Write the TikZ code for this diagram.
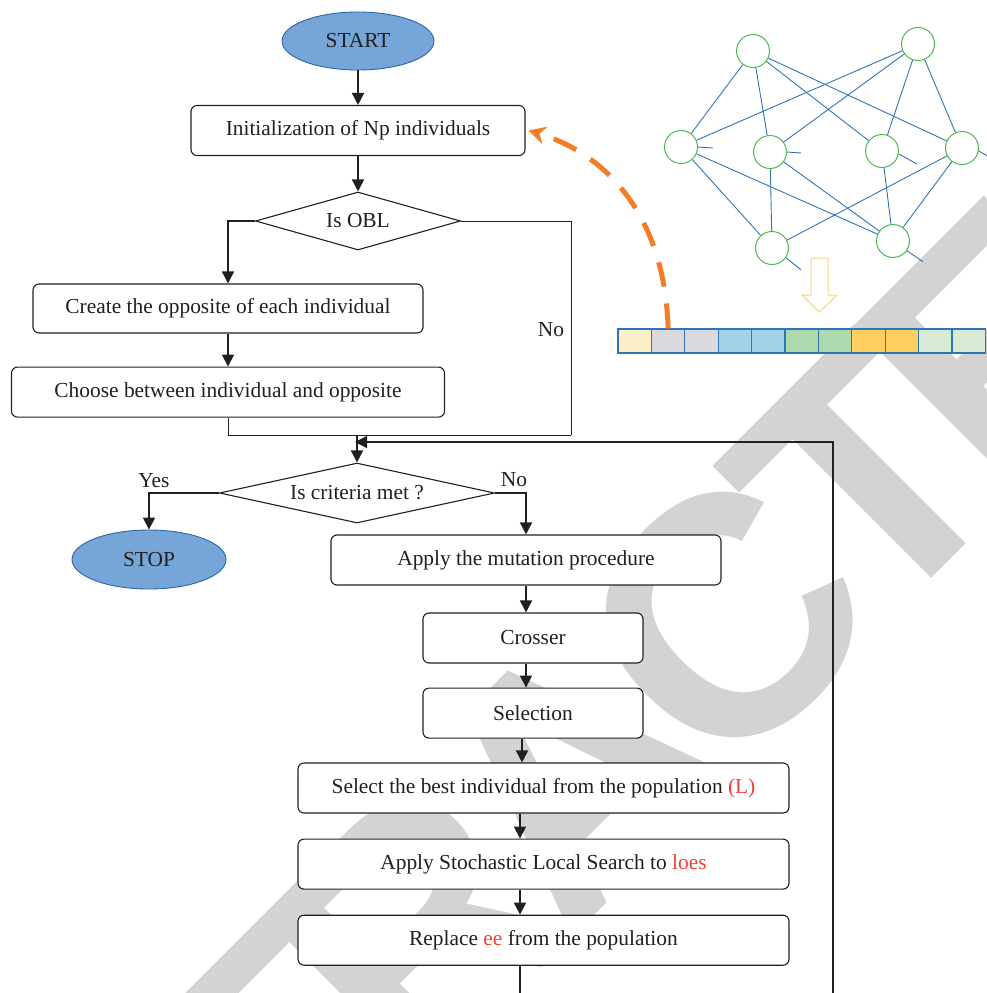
\documentclass[tikz,border=0pt]{standalone}
\usepackage{fontspec}
\setmainfont{Liberation Serif}
\newfontfamily\marksans[LetterSpace=-8]{Liberation Sans}
\usepackage{xcolor}
\usepackage{tikz}
\usetikzlibrary{arrows.meta, positioning, shapes.geometric, backgrounds}

\definecolor{ink}{RGB}{35,31,32}
\definecolor{hilite}{RGB}{239,65,54}
\definecolor{termfill}{RGB}{118,166,216}
\definecolor{termline}{RGB}{46,100,170}
\definecolor{nngreen}{RGB}{76,185,76}
\definecolor{nnblue}{RGB}{46,117,182}
\definecolor{oblorange}{RGB}{244,125,42}
\definecolor{hollowyel}{RGB}{255,212,110}
\definecolor{gcream}{RGB}{253,239,199}
\definecolor{ggray}{RGB}{217,217,222}
\definecolor{gblue}{RGB}{162,210,234}
\definecolor{ggreen}{RGB}{174,216,173}
\definecolor{ggold}{RGB}{255,208,95}
\definecolor{gpale}{RGB}{214,234,212}
\definecolor{markgray}{RGB}{211,211,211}

\begin{document}
\begin{tikzpicture}[x=1pt, y=-1pt,
  block/.style={rectangle, rounded corners=6pt, draw=ink, line width=1.1pt,
    fill=white, text=ink, inner sep=0pt, minimum height=50pt,
    font=\fontsize{21.4}{25}\selectfont},
  term/.style={ellipse, draw=termline, line width=0.9pt, fill=termfill,
    text=ink, inner sep=0pt, minimum width=152pt, minimum height=58pt,
    font=\fontsize{21.4}{25}\selectfont},
  decision/.style={diamond, draw=ink, line width=1.1pt, fill=white,
    text=ink, inner sep=0pt, aspect=3.5, font=\fontsize{21.4}{25}\selectfont},
  branch/.style={text=ink, inner sep=0pt, font=\fontsize{21.4}{25}\selectfont},
  arr/.style={-{Triangle[length=12pt, width=12pt]}, line width=1.6pt, draw=ink},
  wire/.style={line width=1pt, draw=ink},
  neuron/.style={circle, draw=nngreen, line width=1pt, fill=white,
    minimum size=33pt, inner sep=0pt},
  syn/.style={draw=nnblue, line width=0.9pt},
  gene/.style={rectangle, draw=nnblue, line width=1.3pt,
    minimum width=33.4pt, minimum height=24pt, inner sep=0pt},
  oblarr/.style={-{Stealth[length=17pt, width=18pt]}, line width=5pt,
    draw=oblorange, dash pattern=on 25pt off 17pt},
  hollow/.style={draw=hollowyel, line width=1pt, fill=white},
  watermark/.style={text=markgray, inner sep=0pt,
    font=\marksans\bfseries\fontsize{340}{340}\selectfont},
]
\useasboundingbox (0,0) rectangle (986,993);
% ====== FLOWCHART: INITIALISATION + OBL ======
\node[term] (f_start) at (358,41) {START};
\node[block, minimum width=334pt] (f_init) at (358,130.5)
  {Initialization of Np individuals};
\node[decision, minimum width=205pt, minimum height=58pt] (f_obl) at (358,221)
  {Is OBL};
\node[block, minimum width=390pt, minimum height=49pt] (f_create) at (228,308.5)
  {Create the opposite of each individual};
\node[block, minimum width=433pt, below=33pt of f_create] (f_choose)
  {Choose between individual and opposite};
\node[branch] (l_obl_no) at (551,330) {No};
\coordinate (c_join_r) at (571,435);
\coordinate (c_join) at (357,435);
\draw[arr] (f_start) -- (f_init);
\draw[arr] (f_init) -- (f_obl);
\draw[arr] (f_obl.west) -| (f_create.north);
\draw[arr] (f_create.south) -- (f_create.south |- f_choose.north);
\draw[wire] (f_obl.east) -| (c_join_r);
\draw[wire] (f_choose.south) |- (c_join_r);
%
% ====== FLOWCHART: MAIN LOOP ======
\node[decision, minimum width=275pt, minimum height=60pt] (f_crit) at (357,493)
  {Is criteria met ?};
\node[term, minimum width=154pt, minimum height=59pt] (f_stop) at (149,559.5) {STOP};
\node[branch] (l_yes) at (154,481) {Yes};
\node[branch] (l_crit_no) at (514,480) {No};
\node[block, minimum width=390pt] (f_mut) at (526,560)
  {Apply the mutation procedure};
\node[block, minimum width=220pt] (f_cross) at (533,638) {Crosser};
\node[block, minimum width=220pt, below=24pt of f_cross] (f_sel) {Selection};
\node[block, minimum width=491pt] (f_best) at (543.5,788)
  {Select the best individual from the population \textcolor{hilite}{(L)}};
\node[block, minimum width=491pt, below=25pt of f_best] (f_sls)
  {Apply Stochastic Local Search to \textcolor{hilite}{loes}};
\node[block, minimum width=491pt, below=25pt of f_sls] (f_repl)
  {Replace \textcolor{hilite}{ee} from the population};
\coordinate (c_spine) at (520,0);
\coordinate (c_loop_r) at (833,993);
\coordinate (c_loop_in) at (355,442);
\draw[arr] (c_join) -- (f_crit.north);
\draw[arr] (f_crit.west) -| (f_stop.north);
\draw[arr] (f_crit.east) -| (f_mut.north);
\draw[arr] (f_mut.south) -- (f_mut.south |- f_cross.north);
\draw[arr] (f_cross.south -| f_mut) -- (f_sel.north -| f_mut);
\draw[arr] ([xshift=-4pt]f_sel.south -| f_mut) -- ([xshift=-4pt]f_best.north -| f_mut);
\draw[arr] (f_best.south -| c_spine) -- (f_sls.north -| c_spine);
\draw[arr] (f_sls.south -| c_spine) -- (f_repl.north -| c_spine);
\draw[wire, line width=1.3pt] (f_repl.south -| c_spine) -- (c_spine |- c_loop_r);
\draw[arr, line width=1.4pt] (c_loop_r) |- (c_loop_in);
%
% ====== NEURAL NETWORK ======
\node[neuron] (n_t1) at (753,51) {};
\node[neuron] (n_t2) at (918,44) {};
\node[neuron] (n_m1) at (681,147) {};
\node[neuron] (n_m2) at (770,152) {};
\node[neuron] (n_m3) at (882,151) {};
\node[neuron] (n_m4) at (962,148) {};
\node[neuron] (n_b1) at (772,248) {};
\node[neuron] (n_b2) at (893,241) {};
\foreach \a/\b in {t1/m1, t1/m2, t1/m3, t1/m4, t2/m1, t2/m2, t2/m3, t2/m4,
                   m1/b1, m1/b2, m2/b1, m2/b2, m3/b2, m4/b1, m4/b2}
  \draw[syn] (n_\a) -- (n_\b);
\draw[syn] (n_m1.east) -- ++(15,1);
\draw[syn] (n_m2.east) -- ++(14,1);
\draw[syn] (n_m3.-10) -- ++(18,10);
\draw[syn] (n_m4.-10) -- ++(12,7);
\draw[syn] (n_b1.-35) -- ++(15,12);
\draw[syn] (n_b2.-35) -- ++(16,11);
% hollow down arrow
\draw[hollow] (811,258) -- (828,258) -- (828,295) -- (837,295)
  -- (819.5,312) -- (802,295) -- (811,295) -- cycle;
%
% ====== ENCODED INDIVIDUAL ======
\foreach \c [count=\i] in {gcream, ggray, ggray, gblue, gblue, ggreen, ggreen,
                           ggold, ggold, gpale, gpale}
  \node[gene, fill=\c] (g_\i) at ({618+33.4*(\i-0.5)},341) {};
\draw[oblarr] (g_2.north) .. controls (665,220) and (610,155) .. ([xshift=3pt]f_init.east);
%
% ====== WATERMARK ======
\begin{scope}[on background layer]
  \clip (0,0) rectangle (986,993);
  \node[watermark, rotate=45] (w_mark) at (571,774) {RETRACTED};
\end{scope}
\end{tikzpicture}
\end{document}
